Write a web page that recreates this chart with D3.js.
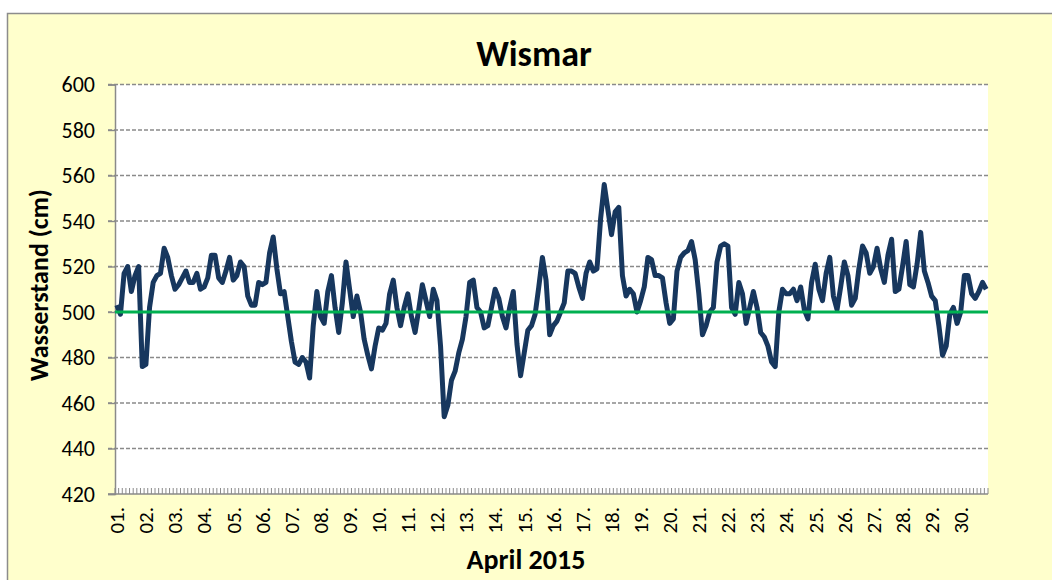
<!DOCTYPE html>
<html>
<head>
<meta charset="utf-8">
<script src="https://cdn.jsdelivr.net/npm/d3@7"></script>
<style>
  body { margin: 0; background: #fff; }
  text { font-family: Carlito, Calibri, Lato, "Open Sans", sans-serif; }
</style>
</head>
<body>
<div id="chart"></div>
<script>
// Wasserstand Wismar, April 2015, 3-stuendlich (8 Werte pro Tag)
var wasserstand = [
  503, 499, 517, 520, 509, 516, 520, 476,   // 01.
  477, 502, 513, 516, 517, 528, 524, 516,   // 02.
  510, 512, 515, 518, 513, 513, 517, 510,   // 03.
  511, 515, 525, 525, 515, 513, 518, 524,   // 04.
  514, 516, 522, 520, 507, 503, 503, 513,   // 05.
  512, 513, 526, 533, 519, 508, 509, 498,   // 06.
  487, 478, 477, 480, 478, 471, 494, 509,   // 07.
  498, 495, 509, 516, 502, 491, 504, 522,   // 08.
  510, 498, 507, 500, 488, 481, 475, 485,   // 09.
  493, 492, 495, 508, 514, 502, 494, 502,   // 10.
  508, 498, 491, 501, 512, 505, 498, 510,   // 11.
  505, 485, 454, 459, 470, 474, 482, 488,   // 12.
  498, 513, 514, 502, 500, 493, 494, 502,   // 13.
  510, 506, 498, 493, 502, 509, 486, 472,   // 14.
  482, 492, 494, 499, 511, 524, 514, 490,   // 15.
  494, 496, 500, 504, 518, 518, 517, 511,   // 16.
  506, 517, 522, 518, 519, 541, 556, 545,   // 17.
  534, 544, 546, 516, 507, 510, 508, 500,   // 18.
  505, 511, 524, 523, 516, 516, 515, 504,   // 19.
  495, 497, 518, 524, 526, 527, 531, 523,   // 20.
  508, 490, 494, 500, 502, 522, 529, 530,   // 21.
  529, 502, 499, 513, 508, 495, 502, 509,   // 22.
  502, 491, 489, 485, 478, 476, 500, 510,   // 23.
  508, 508, 510, 505, 511, 501, 497, 513,   // 24.
  521, 510, 505, 517, 524, 507, 501, 511,   // 25.
  522, 516, 503, 506, 519, 529, 526, 517,   // 26.
  520, 528, 519, 513, 525, 532, 509, 510,   // 27.
  520, 531, 512, 511, 521, 535, 518, 513,   // 28.
  507, 505, 494, 481, 485, 499, 502, 495,   // 29.
  500, 516, 516, 508, 506, 509, 513, 510    // 30.
];
var dayLabels = ["01.", "02.", "03.", "04.", "05.", "06.", "07.", "08.", "09.", "10.",
                 "11.", "12.", "13.", "14.", "15.", "16.", "17.", "18.", "19.", "20.",
                 "21.", "22.", "23.", "24.", "25.", "26.", "27.", "28.", "29.", "30."];
var perDay = 8;
var yTicks = [420, 440, 460, 480, 500, 520, 540, 560, 580, 600];
var mittelwert = 500;

var W = 1052, H = 580;
var plot = {left: 115, right: 988, top: 84.5, bottom: 494};

var svg = d3.select("#chart").append("svg")
  .attr("width", W)
  .attr("height", H);

// chart area (yellow) with gray border
svg.append("rect")
  .attr("x", 7.5).attr("y", 13.5)
  .attr("width", W + 20).attr("height", H + 20)
  .attr("fill", "#ffffcc")
  .attr("stroke", "#8c8c8c")
  .attr("stroke-width", 1.5);

// plot area
svg.append("rect")
  .attr("x", plot.left).attr("y", plot.top)
  .attr("width", plot.right - plot.left)
  .attr("height", plot.bottom - plot.top)
  .attr("fill", "#fff");

var x = d3.scaleBand()
  .domain(d3.range(wasserstand.length))
  .range([plot.left, plot.right])
  .padding(0);

var y = d3.scaleLinear()
  .domain([420, 600])
  .range([plot.bottom, plot.top]);

// dashed gridlines
svg.append("g").selectAll("line")
  .data(yTicks.filter(d => d > 420))
  .enter().append("line")
  .attr("x1", plot.left - 7).attr("x2", plot.right)
  .attr("y1", d => y(d)).attr("y2", d => y(d))
  .attr("stroke", "#8a8a8a")
  .attr("stroke-width", 1.4)
  .attr("stroke-dasharray", "4,2");

// y axis
var yAxis = svg.append("g")
  .attr("transform", `translate(${plot.left},0)`)
  .call(d3.axisLeft(y).tickValues(yTicks).tickSize(7).tickPadding(13));
yAxis.select(".domain").attr("stroke", "#8a8a8a").attr("stroke-width", 1.5);
yAxis.selectAll(".tick line").attr("stroke", "#8a8a8a").attr("stroke-width", 1.4);
yAxis.selectAll(".tick text")
  .style("font-size", "22px")
  .attr("fill", "#000");

// x axis with day labels
var xAxis = svg.append("g")
  .attr("transform", `translate(0,${plot.bottom})`)
  .call(d3.axisBottom(x)
    .tickValues(d3.range(0, wasserstand.length, perDay))
    .tickFormat(i => dayLabels[i / perDay])
    .tickSize(0));
xAxis.select(".domain").remove();
xAxis.selectAll(".tick text")
  .style("font-size", "21px")
  .attr("fill", "#000")
  .attr("text-anchor", "end")
  .attr("transform", "rotate(-90)")
  .attr("x", -13)
  .attr("y", 0)
  .attr("dy", "0.35em");

// minor ticks between categories (inside the plot)
svg.append("g").selectAll("line")
  .data(d3.range(wasserstand.length + 1))
  .enter().append("line")
  .attr("x1", i => i < wasserstand.length ? x(i) : plot.right)
  .attr("x2", i => i < wasserstand.length ? x(i) : plot.right)
  .attr("y1", plot.bottom)
  .attr("y2", plot.bottom - 6)
  .attr("stroke", "#8a8a8a")
  .attr("stroke-width", 1);

svg.append("line")
  .attr("x1", plot.left - 7).attr("x2", plot.right)
  .attr("y1", plot.bottom).attr("y2", plot.bottom)
  .attr("stroke", "#8a8a8a")
  .attr("stroke-width", 1.5);

// water level line
var line = d3.line()
  .x((d, i) => x(i) + x.bandwidth() / 2)
  .y(d => y(d));

svg.append("path")
  .datum(wasserstand)
  .attr("d", line)
  .attr("fill", "none")
  .attr("stroke", "#17375e")
  .attr("stroke-width", 5)
  .attr("stroke-linejoin", "round");

// mean water level
svg.append("line")
  .attr("x1", plot.left).attr("x2", plot.right)
  .attr("y1", y(mittelwert)).attr("y2", y(mittelwert))
  .attr("stroke", "#00b050")
  .attr("stroke-width", 3);

// titles
svg.append("text")
  .attr("x", 534).attr("y", 66)
  .attr("text-anchor", "middle")
  .style("font-size", "36px")
  .style("font-weight", "bold")
  .text("Wismar");

svg.append("text")
  .attr("transform", "rotate(-90)")
  .attr("x", -285).attr("y", 48)
  .attr("text-anchor", "middle")
  .style("font-size", "26px")
  .style("font-weight", "bold")
  .text("Wasserstand (cm)");

svg.append("text")
  .attr("x", 526).attr("y", 569)
  .attr("text-anchor", "middle")
  .style("font-size", "28px")
  .style("font-weight", "bold")
  .text("April 2015");
</script>
</body>
</html>
